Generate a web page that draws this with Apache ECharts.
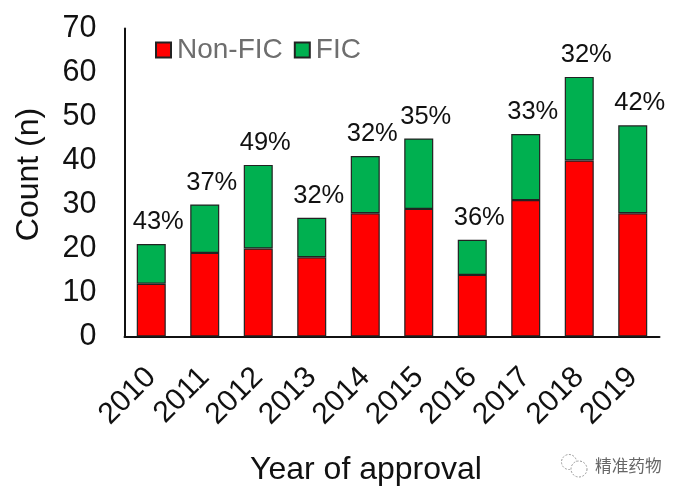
<!DOCTYPE html>
<html>
<head>
<meta charset="UTF-8">
<script src="https://cdn.jsdelivr.net/npm/echarts@6/dist/echarts.min.js"></script>
<style>html,body{margin:0;background:#fff}#c{width:683px;height:495px}</style>
</head>
<body>
<div id="c"></div>
<script>
const years = ['2010','2011','2012','2013','2014','2015','2016','2017','2018','2019']
const nonFic = [12,19,20,18,28,29,14,31,40,28]
const fic = [9,11,19,9,13,16,8,15,19,20]
const pct = ['43%','37%','49%','32%','32%','35%','36%','33%','32%','42%']
const font = 'Liberation Sans'
let chart = echarts.init(document.getElementById('c'), null, {renderer:'canvas'})
chart.setOption({
    animation:false,
    textStyle:{fontFamily:font},
    grid:{left:124.5,right:23.5,top:28.5,bottom:158.5},
    legend:{
        left:150,top:31,icon:'rect',itemWidth:15,itemHeight:15,itemGap:11,
        textStyle:{fontSize:28,color:'#6e6e6e',fontFamily:font,padding:[2,0,0,1]},
        data:['Non-FIC','FIC']
    },
    xAxis:{
        type:'category',data:years,name:'Year of approval',nameLocation:'middle',nameGap:118,
        nameTextStyle:{fontSize:32,color:'#111',padding:[0,52,0,0]},
        axisLine:{lineStyle:{color:'#111',width:2}},axisTick:{show:false},
        axisLabel:{rotate:45,fontSize:30,color:'#111',margin:36,interval:0}
    },
    yAxis:{
        type:'value',min:0,max:70,interval:10,name:'Count (n)',nameLocation:'middle',nameGap:79,
        nameTextStyle:{fontSize:32,color:'#111',padding:[0,0,0,16]},
        axisLine:{show:true,lineStyle:{color:'#111',width:2}},axisTick:{show:false},splitLine:{show:false},
        axisLabel:{fontSize:30.5,color:'#111',margin:28}
    },
    series:[
        {name:'Non-FIC',type:'bar',stack:'n',barWidth:29,data:nonFic,itemStyle:{color:'#ff0000',borderColor:'#222',borderWidth:1.2}},
        {name:'FIC',type:'bar',stack:'n',barWidth:29,data:fic,itemStyle:{color:'#00b050',borderColor:'#222',borderWidth:1.2},
         label:{show:true,position:'top',distance:9,offset:[7,0],fontSize:25.5,color:'#111',formatter:p=>pct[p.dataIndex]}}
    ],
    graphic:[
        {type:'circle',shape:{cx:569,cy:462,r:7.5},style:{fill:'none',stroke:'#999',lineWidth:1,lineDash:[2,1.5]}},
        {type:'circle',shape:{cx:579,cy:469,r:8},style:{fill:'#fff',stroke:'#999',lineWidth:1,lineDash:[2,1.5]}},
        {type:'text',left:595,top:457,style:{text:'精准药物',fontSize:16.7,fill:'#666',fontFamily:'Noto Sans CJK SC'}}
    ]
})
</script>
</body>
</html>
